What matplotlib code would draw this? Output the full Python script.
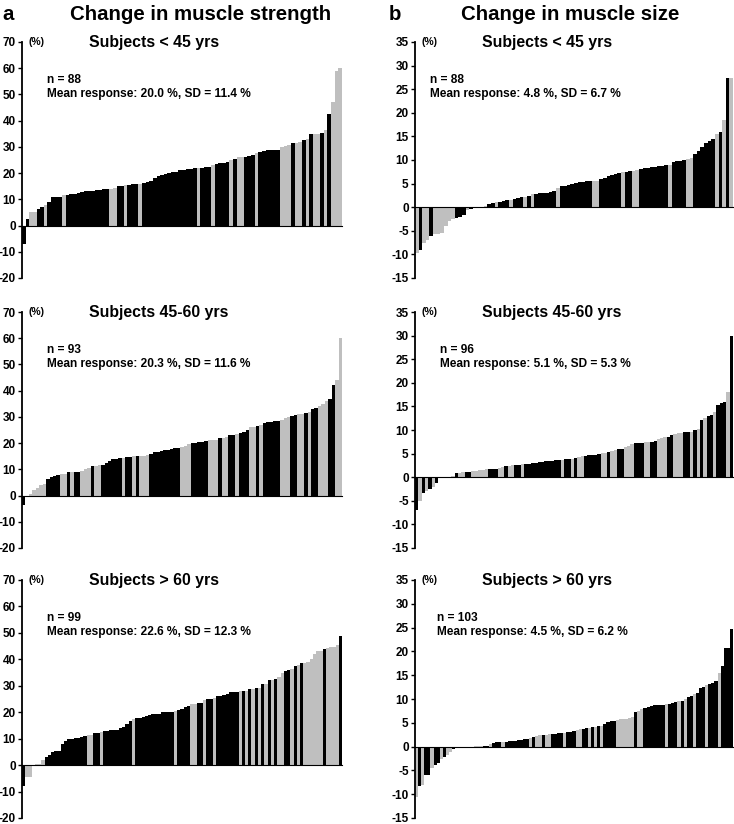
import numpy as np
import matplotlib
matplotlib.use("Agg")
import matplotlib.pyplot as plt

plt.rcParams['font.family'] = ['Liberation Sans', 'DejaVu Sans']
plt.rcParams['axes.unicode_minus'] = False

# ---------------- data ----------------
# colour codes: K = black bar, G = grey bar
a1_values = [-7, 2.5, 5, 5, 6.5, 7, 8, 9, 11, 11, 11, 11.5,
             11.8, 12, 12.2, 12.5, 12.8, 13, 13, 13.2, 13.4, 13.6, 13.8, 14,
             14, 14.5, 15, 15.2, 15.5, 15.6, 15.7, 15.8, 16,
             16.3, 16.8, 17, 18, 19, 19.3, 19.6, 20, 20.3, 20.6, 21, 21.3, 21.5, 21.6, 21.8,
             22, 22, 22.2, 22.5, 23, 23.5, 23.8, 24, 24.2, 25, 25.5, 26, 26.2, 26.3, 26.5, 27, 27.5,
             28, 28.4, 28.7, 29, 29, 29,
             30, 30.5, 30.7, 31.5, 31.5, 31.7, 32.5, 33, 35, 35, 35, 35.2, 36.5, 42.5, 47, 59, 60]
a1_colors = ("KKGGKKGKKKKG" "KKKKKKKKKKKK" "GGKKGKKKG" "KKKKKKKKKKKKKKK"
             "GKKKGKKKKGKGGKKKG" "KKKKKK" "GGGKGGKGKGGKGKGGG")

a2_values = [-3.5, 0, 0.5, 2, 3, 4, 4.5, 6.5, 7, 7.5, 8, 8.2, 8.3, 8.8, 8.9, 9, 9,
             9.5, 10, 10.5, 11.3, 11.4, 11.5, 11.5, 12.5, 13, 13.8, 14, 14.2, 14.3,
             14.6, 14.8, 15, 15, 15.2, 15.2, 15.3,
             16, 16.5, 16.8, 17, 17.2, 17.5, 17.8, 18, 18.2, 18.5, 19, 19.5,
             20, 20.2, 20.5, 20.6, 20.8, 21, 21.2, 21.3, 21.8, 22, 22.5, 23, 23.2, 23.5,
             24, 24.2, 25, 26, 26.3, 26.5, 26.8, 27.5, 28, 28.2, 28.4, 28.5,
             29, 29.5, 30, 30.5, 30.7, 31, 31.2, 31.5, 32, 33, 33.5, 34, 35, 36, 37, 42, 44, 60]
a2_colors = ("K" "GG" "GGGG" "KKKK" "GG" "K" "G" "KK" "GGG" "K" "GG" "KKKKKK" "G" "KK"
             "G" "K" "GGG" "KKKKKKKKK" "GGG" "KKKKK" "GGG" "K" "GG" "KK" "G" "KKK" "GG"
             "K" "G" "KKKKK" "GGG" "KK" "GG" "K" "G" "KK" "GGG" "KK" "G" "G")

a3_values = [-8, -4.5, -4.5, 0, 0.3, 0.5, 2, 3, 4, 5, 5.2, 5.4, 8, 9, 9.8,
             10, 10.2, 10.3, 10.5, 11, 11.3, 11.5, 12, 12.2, 12.5,
             12.8, 13, 13.1, 13.2, 13.4, 14, 14.5, 15.5, 16.5, 17.5,
             17.8, 18, 18.2, 18.5, 19, 19.2, 19.4, 19.5, 20, 20, 20, 20, 20.5,
             21, 21.3, 22, 22.5, 23, 23.2, 23.3, 23.4, 24.7, 25, 25, 25.5,
             26, 26.2, 26.6, 27, 27.5, 27.8, 27.8,
             28, 28, 28.2, 28.6, 28.8, 29, 29.2, 30.5, 30.5, 32, 32.2, 32.5,
             33.5, 35, 35.5, 36, 36.5, 37.5, 38, 38.5,
             38.5, 39, 40, 42, 43, 43.3, 44, 44.3, 44.5, 44.6, 45.5, 49]
a3_colors = ("K" "GG" "GGG" "G" "KK" "KKK" "KKK" "KKKK" "K" "GG" "KK" "G"
             "KKKKKKKKK" "G" "KKKKKKKKKKKK" "G" "KKKK" "GG" "KK" "G" "KK" "G"
             "KKKKKKK" "GKGKGKGKGKGK" "GG" "KK" "G" "K" "G" "K"
             "GGGGGG" "K" "GGGG" "K")

b1_values = [-9.6, -9, -7.5, -7, -6, -5.6, -5.6, -5.5, -4, -3, -2.6, -2.2, -2, -1.7,
             -0.6, -0.3, 0, 0, 0.1, 0.2,
             0.6, 0.9, 1.0, 1.2, 1.4, 1.5, 1.6, 1.7, 2.0, 2.2, 2.2, 2.3, 2.8,
             2.9, 3, 3, 3.1, 3.3, 3.5, 4,
             4.4, 4.5, 4.8, 5, 5.1, 5.3, 5.4, 5.5, 5.5, 5.5, 5.6,
             6, 6.1, 6.6, 6.8, 7, 7.2, 7.4, 7.5, 7.6, 7.7, 7.8,
             8, 8.2, 8.4, 8.5, 8.6, 8.7, 8.8, 8.9, 9, 9.5, 9.7, 9.8, 10, 10.3, 10.5,
             11.3, 12, 12.8, 13.5, 14, 14.5, 15.5, 16, 18.5, 27.3, 27.3]
b1_colors = ("GKGGKGGGGGGKKKGKGGGG" "KKGKKKGKKKGKGKKKKKKG"
             "KKKKKKKKK" "GG" "KKKKKK" "G" "KK" "GG" "KKKKKKKK" "G" "KKKK" "GG"
             "KKKKKK" "G" "K" "G" "K" "G")

b2_values = [-7, -5, -3.3, -3, -2.5, -2, -1.2, 0, 0, 0, 0.1, 0.2, 0.8, 0.9, 1.0,
             1.2, 1.2, 1.3, 1.4, 1.5, 1.6, 1.7, 1.8, 1.8, 1.8, 2.0, 2.2, 2.3, 2.4, 2.5,
             2.5, 2.6, 2.7, 2.8, 2.9, 3.0, 3.1, 3.2, 3.3, 3.4, 3.5, 3.5, 3.6, 3.6,
             3.7, 3.8, 3.8, 3.9, 4.0, 4.2, 4.4, 4.5, 4.6, 4.7, 4.8, 5.0, 5.1, 5.2, 5.3,
             5.5, 5.8, 6, 6, 6.5, 6.7, 7, 7.2, 7.3, 7.3, 7.4, 7.4, 7.5, 7.7,
             8, 8.3, 8.5, 8.6, 8.9, 9.2, 9.3, 9.4, 9.5, 9.5, 9.6, 10, 10.2,
             12.2, 12.5, 13, 13.2, 13.8, 15.2, 15.8, 16, 18, 30]
b2_colors = ("KGKGKGK" "GGGGG" "K" "GG" "KK" "GGGGG" "KKK" "GG" "K" "GG" "KK" "G"
             "KKKKKKKKKKK" "G" "KK" "G" "K" "GG" "KKKKK" "GG" "K" "GG" "KK" "GGG"
             "KKK" "GG" "KK" "GGG" "KK" "GGG" "KK" "G" "K" "G" "K" "G" "KK" "G"
             "KKK" "G" "K")

b3_values = [-10.5, -8.2, -8.0, -6.0, -6.0, -4.5, -3.8, -3.5, -2.5, -2.2, -1.8, -1.2,
             -0.5, -0.3, -0.2, 0, 0, 0, 0, 0.05, 0.1, 0.1,
             0.2, 0.2, 0.5, 0.8, 0.9, 0.9, 1.0, 1.0, 1.1, 1.2, 1.2, 1.3, 1.4, 1.5, 1.6,
             1.8, 2.1, 2.3, 2.4, 2.5, 2.5, 2.6, 2.6, 2.7, 2.8, 2.9, 2.9, 3.0, 3.1, 3.2,
             3.4, 3.6, 3.8, 3.9, 4.0, 4.1, 4.2, 4.3, 4.4, 4.8, 5.2, 5.4, 5.4,
             5.6, 5.7, 5.8, 5.9, 6.0, 6.2, 7.2, 7.5, 7.8,
             8.2, 8.4, 8.6, 8.7, 8.8, 8.8, 8.8, 8.9, 9.0, 9.2, 9.4, 9.5, 9.6, 10.0,
             10.5, 10.6, 11.0, 11.3, 12.3, 12.5, 13.0, 13.1, 13.3, 13.8, 15.5,
             17.0, 20.7, 20.7, 24.7]
b3_colors = ("GKGKKGKKGKGGKGG" "GGGGGGG" "KKGKKKG" "KKKKKKKK" "GKGGKGG"
             "KKKKGKKK" "GGKKGKGKG" "KKKK" "GGGGGG" "KGG" "KKKKKKKG"
             "KKKGKGKKGK" "KKGKKKGKKKK")

a_titles = ["Subjects < 45 yrs", "Subjects 45-60 yrs", "Subjects > 60 yrs"]
b_titles = ["Subjects < 45 yrs", "Subjects 45-60 yrs", "Subjects > 60 yrs"]
a_n = ["n = 88", "n = 93", "n = 99"]
a_mean = ["Mean response: 20.0 %, SD = 11.4 %",
          "Mean response: 20.3 %, SD = 11.6 %",
          "Mean response: 22.6 %, SD = 12.3 %"]
b_n = ["n = 88", "n = 96", "n = 103"]
b_mean = ["Mean response: 4.8 %, SD = 6.7 %",
          "Mean response: 5.1 %, SD = 5.3 %",
          "Mean response: 4.5 %, SD = 6.2 %"]
a_ticks = list(range(-20, 71, 10))
b_ticks = list(range(-15, 36, 5))

# --------------- drawing ---------------
W, H = 734, 824
fig = plt.figure(figsize=(W / 100, H / 100), dpi=100)
cmap = {"K": "#000000", "G": "#bfbfbf"}

rows = [(42, 278), (312, 548), (580, 818)]
cols = {"a": (22, 342), "b": (415, 733)}


def panel(col, row, values, colors, title, n_txt, mean_txt, ticks, stats_x):
    assert len(values) == len(colors), (col, row, len(values), len(colors))
    x0, x1 = cols[col]
    y0, y1 = rows[row]
    ax = fig.add_axes([x0 / W, 1 - y1 / H, (x1 - x0) / W, (y1 - y0) / H])
    n = len(values)
    ax.bar(np.arange(n), values, width=1.0, color=[cmap[c] for c in colors],
           linewidth=0, align='center', zorder=2)
    ax.set_xlim(-0.5, n - 0.5)
    ax.set_ylim(ticks[0], ticks[-1])
    for s in ["top", "right"]:
        ax.spines[s].set_visible(False)
    ax.spines["bottom"].set_position(("data", 0))
    ax.spines["bottom"].set_linewidth(0.8)
    ax.spines["bottom"].set_zorder(3)
    ax.spines["left"].set_linewidth(1.3)
    ax.spines["left"].set_zorder(4)
    ax.set_xticks([])
    ax.set_yticks(ticks)
    ax.set_yticklabels([str(t) for t in ticks], fontweight="bold")
    ax.tick_params(axis="y", direction="out", length=3, width=1, labelsize=8.5, pad=1.5)
    ax.patch.set_alpha(0)
    ax.text(0.02, 1.0, "(%)", transform=ax.transAxes, ha="left", va="center",
            fontsize=7.5, fontweight="bold")
    ax.text(0.21, 1.0, title, transform=ax.transAxes, ha="left", va="center",
            fontsize=11.4, fontweight="bold")
    ax.text(stats_x, 0.839, n_txt, transform=ax.transAxes, ha="left", va="center",
            fontsize=8.6, fontweight="bold")
    ax.text(stats_x, 0.78, mean_txt, transform=ax.transAxes, ha="left", va="center",
            fontsize=8.6, fontweight="bold")
    return ax


a_vals = [a1_values, a2_values, a3_values]
a_cols = [a1_colors, a2_colors, a3_colors]
b_vals = [b1_values, b2_values, b3_values]
b_cols = [b1_colors, b2_colors, b3_colors]
b_sx = [0.047, 0.079, 0.07]
for r in range(3):
    panel("a", r, a_vals[r], a_cols[r], a_titles[r], a_n[r], a_mean[r], a_ticks, 0.078)
    panel("b", r, b_vals[r], b_cols[r], b_titles[r], b_n[r], b_mean[r], b_ticks, b_sx[r])

fig.text(201 / W, 1 - 14 / H, "Change in muscle strength", ha="center", va="center",
         fontsize=14.7, fontweight="bold")
fig.text(570 / W, 1 - 14 / H, "Change in muscle size", ha="center", va="center",
         fontsize=14.7, fontweight="bold")
fig.text(2 / W, 1 - 14 / H, "a", ha="left", va="center", fontsize=14.7, fontweight="bold")
fig.text(389 / W, 1 - 14 / H, "b", ha="left", va="center", fontsize=14.7, fontweight="bold")

fig.savefig("out.png", dpi=100)
